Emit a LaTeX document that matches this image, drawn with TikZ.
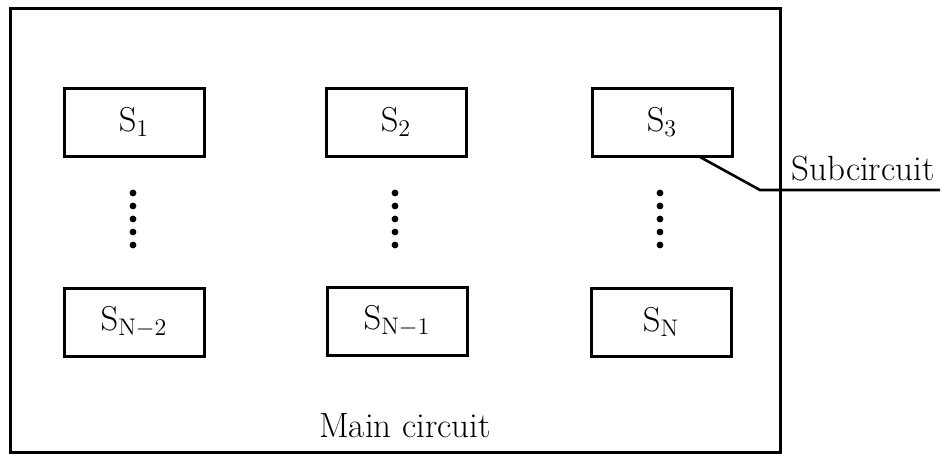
\documentclass[tikz,border=0pt]{standalone}
\begin{document}
\begin{tikzpicture}[x=0.5pt,y=-0.5pt,
  subbox/.style={draw,line width=1.5pt,minimum width=70pt,minimum height=34pt,inner sep=0pt,font=\fontsize{18.5}{22}\selectfont},
  lbl/.style={font=\fontsize{17.5}{21}\selectfont,inner sep=0pt}]
\useasboundingbox (0,0) rectangle (946,456);
\draw[line width=1.5pt] (10,8) rectangle (780,452);
\node[subbox] (s1) at (134,122) {$\mathrm{S}_{1}$};
\node[subbox] (s2) at (396,122) {$\mathrm{S}_{2}$};
\node[subbox] (s3) at (662,122) {$\mathrm{S}_{3}$};
\node[subbox] (sn2) at (134,322) {$\mathrm{S}_{\mathrm{N-2}}$};
\node[subbox] (sn1) at (397,321) {$\mathrm{S}_{\mathrm{N-1}}$};
\node[subbox] (sn) at (661,322) {$\mathrm{S}_{\mathrm{N}}$};
\foreach \x in {133,395,660}{
  \foreach \y in {193,206,219,232,245}{
    \fill (\x,\y) circle (1.7pt);
  }
}
\coordinate (bend) at (760,190);
\coordinate (lend) at (940,190);
\coordinate (s3a) at (700,157);
\draw[line width=1.3pt] (s3a) -- (bend) -- (lend);
\node[lbl,anchor=base] (sub) at (863,180) {Subcircuit};
\node[lbl,anchor=base] (main) at (405,437) {Main circuit};
\end{tikzpicture}
\end{document}
